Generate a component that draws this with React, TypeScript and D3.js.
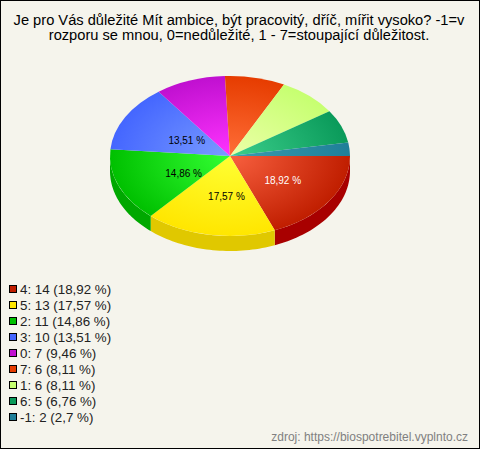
import React from "react";
import * as d3 from "d3";

const categories = ["4", "5", "2", "3", "0", "7", "1", "6", "-1"];
const counts = [14, 13, 11, 10, 7, 6, 6, 5, 2];
const percents = ["18,92", "17,57", "14,86", "13,51", "9,46", "8,11", "8,11", "6,76", "2,7"];
const edgeColors = ["#c01e00", "#ffe600", "#00c000", "#4466ff", "#c010d0", "#e63c00", "#c6ff70", "#0a9a5a", "#1f7f99"];
const centerColors = ["#f8603f", "#ffff33", "#33ff33", "#7a9cff", "#ff33ff", "#ff6e38", "#ecffa8", "#3ccf8c", "#3a9cb0"];
const sideColors = ["#a80000", "#e0c800", "#00a800", "#3050d0", "#a000b0", "#c03000", "#a0d050", "#007040", "#106070"];
const sliceLabels = ["18,92 %", "17,57 %", "14,86 %", "13,51 %", "", "", "", "", ""];
const labelColors = ["#ffffff", "#000000", "#000000", "#000000", "", "", "", "", ""];
const titleLines = [
  "Je pro Vás důležité Mít ambice, být pracovitý, dříč, mířit vysoko? -1=v",
  "rozporu se mnou, 0=nedůležité, 1 - 7=stoupající důležitost.",
];
const source = "zdroj: https://biospotrebitel.vyplnto.cz";

const W = 480, H = 449, CX = 230, CY = 156, RX = 120, RY = 80, DEPTH = 15;
const FONT = "'Liberation Sans', Arial, sans-serif";

export default function App() {
  const pie = d3.pie<number>().sort(null).startAngle(Math.PI / 2).endAngle(Math.PI / 2 + 2 * Math.PI);
  const arcs = pie(counts);
  const arc = d3.arc<d3.PieArcDatum<number>>().innerRadius(0).outerRadius(RX);
  const labelArc = d3.arc<d3.PieArcDatum<number>>().innerRadius(RX * 0.47).outerRadius(RX * 0.47);

  // d3 angle a: x = sin(a), y = -cos(a); front wall is where -cos(a) >= 0
  const sidePath = (a0: number, a1: number) => {
    const lo = Math.max(a0, Math.PI / 2);
    const hi = Math.min(a1, (3 * Math.PI) / 2);
    if (hi <= lo) return null;
    const pts = d3.range(0, 41).map((i) => lo + ((hi - lo) * i) / 40);
    const line = d3.line<[number, number]>();
    const top = pts.map((a): [number, number] => [RX * Math.sin(a), -RY * Math.cos(a)]);
    const bottom = pts.slice().reverse().map((a): [number, number] => [RX * Math.sin(a), -RY * Math.cos(a) + DEPTH]);
    return line([...top, ...bottom]) + "Z";
  };

  return (
    <svg width={W} height={H} style={{ position: "absolute", left: 0, top: 0, display: "block" }} fontFamily={FONT}>
      <defs>
        {arcs.map((_, i) => (
          <radialGradient key={i} id={`g${i}`} gradientUnits="userSpaceOnUse" cx={0} cy={0} r={RX}>
            <stop offset="0" stopColor={centerColors[i]} />
            <stop offset="1" stopColor={edgeColors[i]} />
          </radialGradient>
        ))}
      </defs>
      <rect x={0.5} y={0.5} width={W - 1} height={H - 1} fill="#f5f4ec" stroke="#000" />
      {titleLines.map((t, i) => (
        <text key={i} x={W / 2 - 1} y={25 + i * 15} textAnchor="middle" fontSize={14.67} fill="#000">{t}</text>
      ))}
      <g transform={`translate(${CX},${CY})`}>
        {arcs.map((a, i) => {
          const d = sidePath(a.startAngle, a.endAngle);
          return d ? <path key={i} d={d} fill={sideColors[i]} /> : null;
        })}
      </g>
      <g transform={`translate(${CX},${CY}) scale(1,${RY / RX})`}>
        {arcs.map((a, i) => (
          <path key={i} d={arc(a) ?? ""} fill={`url(#g${i})`} />
        ))}
      </g>
      {arcs.map((a, i) => {
        if (!sliceLabels[i]) return null;
        const [x, y] = labelArc.centroid(a);
        return (
          <text key={i} x={CX + x + 6} y={CY + (y * RY) / RX + 6.5} textAnchor="middle" fontSize={10} fill={labelColors[i]}>
            {sliceLabels[i]}
          </text>
        );
      })}
      {categories.map((c, i) => (
        <g key={c} transform={`translate(0,${i * 16})`}>
          <rect x={9.5} y={285.5} width={7} height={7} fill={edgeColors[i]} stroke="#000" />
          <text x={20} y={294} fontSize={13.33} fill="#222">{`${c}: ${counts[i]} (${percents[i]} %)`}</text>
        </g>
      ))}
      <text x={468} y={441} textAnchor="end" fontSize={12} fill="#808080">{source}</text>
    </svg>
  );
}
